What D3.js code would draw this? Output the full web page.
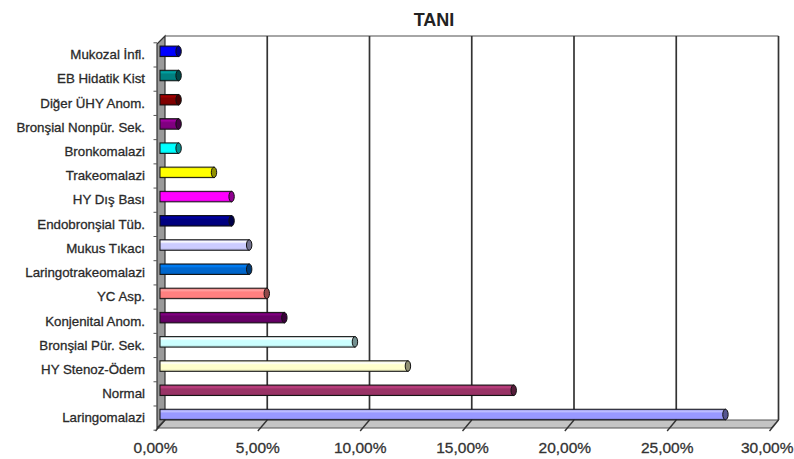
<!DOCTYPE html>
<html><head><meta charset="utf-8">
<script src="https://cdn.jsdelivr.net/npm/d3@7"></script>
<style>
html,body{margin:0;padding:0;background:#fff;}
svg{display:block;font-family:"Liberation Sans",Arial,sans-serif;}
</style></head>
<body>
<svg id="chart" width="794" height="459"></svg>
<script>
const title = "TANI";
const categories = ["Mukozal İnfl.","EB Hidatik Kist","Diğer ÜHY Anom.","Bronşial Nonpür. Sek.","Bronkomalazi","Trakeomalazi","HY Dış Bası","Endobronşial Tüb.","Mukus Tıkacı","Laringotrakeomalazi","YC Asp.","Konjenital Anom.","Bronşial Pür. Sek.","HY Stenoz-Ödem","Normal","Laringomalazi"];
const values = [0.86,0.86,0.86,0.86,0.86,2.59,3.45,3.45,4.31,4.31,5.17,6.03,9.48,12.07,17.24,27.59];
const colors = ["#0000FF","#008080","#800000","#800080","#00FFFF","#FFFF00","#FF00FF","#000080","#CCCCFF","#0066CC","#FF8080","#660066","#CCFFFF","#FFFFCC","#993366","#9999FF"];
const xTicks = [0,5,10,15,20,25,30];

const svg = d3.select("#chart");
const locale = d3.formatLocale({decimal:",", thousands:".", grouping:[3], currency:["","%"]});
const fmt = v => locale.format(".2f")(v) + "%";

// geometry of the pseudo-3D box
const backTop = 36, backBottom = 420, depth = 8;
const xBack = d3.scaleLinear().domain([0,30]).range([165, 778.5]);
const xFront = d3.scaleLinear().domain([0,30]).range([157, 771]);
const xMid = d3.scaleLinear().domain([0,30]).range([161, 774.75]);
const yFront = d3.scaleBand().domain(categories).range([42.8, 430.2]);
const yBar = d3.scaleBand().domain(categories).range([39.2, 426.6]);
const barH = 10.5;

// title
svg.append("text").attr("x", 434).attr("y", 25.5).attr("text-anchor","middle")
  .attr("font-size", 18).attr("font-weight","bold").attr("fill","#222").text(title);

// back wall
svg.append("rect").attr("x", xBack(0)).attr("y", backTop)
  .attr("width", xBack(30)-xBack(0)).attr("height", backBottom-backTop)
  .attr("fill","#fff");
svg.append("line").attr("x1", xBack(0)).attr("x2", xBack(30)).attr("y1", backTop).attr("y2", backTop)
  .attr("stroke","#888").attr("stroke-width",1.5);
svg.append("g").selectAll("line").data(xTicks.slice(1)).join("line")
  .attr("x1", d=>xBack(d)).attr("x2", d=>xBack(d)).attr("y1", backTop).attr("y2", backBottom)
  .attr("stroke", "#333").attr("stroke-width", 1.7);

// floor
svg.append("polygon").attr("points", [
  [xFront(0), backBottom+depth],[xFront(30), backBottom+depth],
  [xBack(30), backBottom],[xBack(0), backBottom]].map(p=>p.join(",")).join(" "))
  .attr("fill","#c4c4c4").attr("stroke","#555").attr("stroke-width",1);

// left wall
svg.append("polygon").attr("points", [
  [xFront(0), backTop+depth],[xBack(0), backTop],
  [xBack(0), backBottom],[xFront(0), backBottom+depth]].map(p=>p.join(",")).join(" "))
  .attr("fill","#9a9a9a").attr("stroke","#333").attr("stroke-width",1.2);

// floor ticks
svg.append("g").selectAll("line").data(xTicks).join("line")
  .attr("x1", d=>xBack(d)).attr("y1", backBottom)
  .attr("x2", d=>xFront(d)-1.5).attr("y2", backBottom+depth+3)
  .attr("stroke","#333").attr("stroke-width",1.4);

// left tick marks at category boundaries
const bounds = categories.map(c=>yFront(c)).concat([yFront.range()[1]]);
svg.append("g").selectAll("line").data(bounds).join("line")
  .attr("x1", xFront(0)-3.5).attr("x2", xFront(0)).attr("y1", d=>d).attr("y2", d=>d)
  .attr("stroke","#555").attr("stroke-width",1);

// gradients
const defs = svg.append("defs");
colors.forEach((c,i)=>{
  const base = d3.color(c);
  const g = defs.append("linearGradient").attr("id","g"+i).attr("x1",0).attr("x2",0).attr("y1",0).attr("y2",1);
  g.append("stop").attr("offset","0%").attr("stop-color", base.darker(0.6));
  g.append("stop").attr("offset","18%").attr("stop-color", base.brighter(0.7));
  g.append("stop").attr("offset","38%").attr("stop-color", base);
  g.append("stop").attr("offset","80%").attr("stop-color", base);
  g.append("stop").attr("offset","100%").attr("stop-color", base.darker(0.8));
});

// bars (cylinders)
const bars = svg.append("g").selectAll("g").data(categories).join("g");
bars.append("rect")
  .attr("x", xMid(0)-1)
  .attr("y", d=>yBar(d)+yBar.bandwidth()/2-barH/2)
  .attr("width", (d,i)=>xMid(values[i])-xMid(0)+1)
  .attr("height", barH)
  .attr("fill", (d,i)=>"url(#g"+i+")")
  .attr("stroke","#111").attr("stroke-width",1);
bars.append("ellipse")
  .attr("cx", (d,i)=>xMid(values[i]))
  .attr("cy", d=>yBar(d)+yBar.bandwidth()/2)
  .attr("rx", 2.7).attr("ry", barH/2)
  .attr("fill", (d,i)=>d3.color(colors[i]).darker(1.6))
  .attr("stroke","#111").attr("stroke-width",1);

// category axis
const yAxis = svg.append("g").attr("transform","translate(148,0)")
  .call(d3.axisLeft(yFront).tickSize(0).tickPadding(3));
yAxis.select(".domain").remove();
yAxis.selectAll("text").attr("font-size",13.3).attr("fill","#2a2a2a")
  .attr("stroke","#2a2a2a").attr("stroke-width",0.3)
  .attr("font-family",'"Liberation Sans",Arial,sans-serif');

// value axis labels
const xAxis = svg.append("g").attr("transform","translate(-2,439)")
  .call(d3.axisBottom(xFront).tickValues(xTicks).tickFormat(fmt).tickSize(0).tickPadding(3));
xAxis.select(".domain").remove();
xAxis.selectAll("text").attr("font-size",15.5).attr("fill","#333")
  .attr("stroke","#333").attr("stroke-width",0.3)
  .attr("font-family",'"Liberation Sans",Arial,sans-serif');
// keep the last label inside the frame
xAxis.selectAll(".tick").filter(d=>d===xTicks[xTicks.length-1]).select("text")
  .attr("text-anchor","end").attr("x", 794 - xFront(xTicks[xTicks.length-1]) + 1);
</script>
</body></html>
